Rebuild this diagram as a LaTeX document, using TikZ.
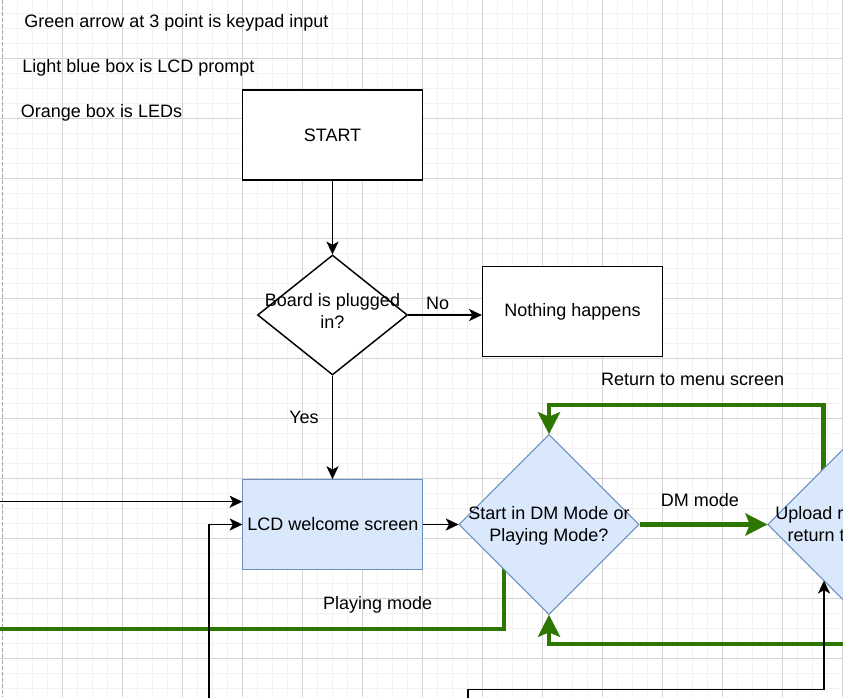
\documentclass[tikz,border=0pt]{standalone}
\usepackage{fontspec}
\setmainfont{Liberation Sans}
\usetikzlibrary{shapes.geometric,arrows.meta}
\pgfdeclarelayer{background}
\pgfsetlayers{background,main}
\definecolor{dgreen}{HTML}{2D7600}
\definecolor{lblue}{HTML}{DAE8FC}
\definecolor{bblue}{HTML}{6C8EBF}
\definecolor{gminor}{RGB}{242,242,242}
\definecolor{gmajor}{RGB}{212,212,212}
\newcommand\dfont{\fontsize{13.5pt}{16.2pt}\selectfont}
\tikzset{
 txt/.style={inner sep=0pt, font=\dfont},
 plainbox/.style={draw=black, fill=white, line width=1.1pt, minimum width=135pt, minimum height=67.5pt, inner sep=0pt, font=\dfont},
 lcdbox/.style={draw=bblue, fill=lblue, line width=0.8pt, minimum width=135pt, minimum height=67.5pt, inner sep=0pt, font=\dfont},
 decision/.style={diamond, draw=black, fill=white, line width=1.1pt, inner sep=0pt},
 lcddecision/.style={diamond, draw=bblue, fill=lblue, line width=0.8pt, inner sep=0pt, minimum width=135pt, minimum height=135pt},
 blk/.style={draw=black, line width=1.1pt, -{Stealth[length=9.5pt,width=9pt,inset=2.5pt,line width=0.1pt]}},
 grn/.style={draw=dgreen, line width=3.2pt},
 grnarrow/.style={grn, -{Stealth[length=16.5pt,width=17pt,inset=3.5pt,line width=0.1pt]}},
 gridminor/.style={draw=gminor, line width=0.75pt},
 gridmajor/.style={draw=gmajor, line width=0.75pt},
}
\begin{document}
\begin{tikzpicture}[x=0.75pt,y=-0.75pt]
\useasboundingbox (0,0) rectangle (843,697);
\clip (0,0) rectangle (843,697);
\begin{pgfonlayer}{background}
\fill[white] (0,0) rectangle (843,697);
\foreach \i in {0,...,56} { \draw[gridminor] ({2.3+15*\i},0) -- ({2.3+15*\i},697); }
\foreach \j in {0,...,45} { \draw[gridminor] (0,{13.3+15*\j}) -- (843,{13.3+15*\j}); }
\foreach \i in {1,...,14} { \draw[gridmajor] ({2.3+60*\i},0) -- ({2.3+60*\i},697); }
\foreach \j in {0,...,10} { \draw[gridmajor] (0,{58.3+60*\j}) -- (843,{58.3+60*\j}); }
\draw[gray!70, line width=0.75pt, dash pattern=on 3pt off 1.5pt] (2.3,0) -- (2.3,697);
\end{pgfonlayer}

% legend texts
\node[txt, anchor=base west] (t1) at (24,27.3) {Green arrow at 3 point is keypad input};
\node[txt, anchor=base west] (t2) at (22,72.7) {Light blue box is LCD prompt};
\node[txt, anchor=base west] (t3) at (20.7,117.8) {Orange box is LEDs};

% shapes
\node[plainbox] (start) at (332.5,135) {START};
\node[decision, minimum width=112.5pt, minimum height=90pt] (d1) at (332.5,315) {};
\node[txt, anchor=base] (d1a) at (332.5,306.7) {Board is plugged};
\node[txt, anchor=base] (d1b) at (332.5,328.3) {in?};
\node[plainbox] (nothing) at (572.5,311.7) {Nothing happens};
\node[lcdbox] (lcd) at (332.8,524.5) {LCD welcome screen};
\node[lcddecision] (d2) at (549,524.5) {};
\node[txt, anchor=base] (d2a) at (549,519.5) {Start in DM Mode or};
\node[txt, anchor=base] (d2b) at (549,541.7) {Playing Mode?};
\node[lcddecision] (d3) at (857.7,524.5) {};
\node[txt, anchor=base west] (d3a) at (775,519.5) {Upload r};
\node[txt, anchor=base west] (d3b) at (787.3,541.7) {return t};

% labels
\node[txt, anchor=base] (lno) at (437.7,309.3) {No};
\node[txt, anchor=base] (lyes) at (304,423.3) {Yes};
\node[txt, anchor=base] (ldm) at (700,506.7) {DM mode};
\node[txt, anchor=base] (lret) at (692.7,385) {Return to menu screen};
\node[txt, anchor=base] (lplay) at (377.7,609.3) {Playing mode};

% connectors
\draw[blk] (start.south) -- (d1.north);
\draw[blk] (d1.east) -- (d1.east -| nothing.west);
\draw[blk] (d1.south) -- (d1.south |- lcd.north);
\coordinate (inL) at (-5,501.7);
\draw[blk] (inL) -- (inL -| lcd.west);
\coordinate (inB) at (209,705);
\draw[blk] (inB) |- (lcd.west);
\draw[blk] (lcd.east) -- (d2.west);
\draw[grnarrow] (d2.east) -- (d3.west);
\begin{pgfonlayer}{background}
\coordinate (r1) at (823.5,478);
\coordinate (rt) at (823.5,405);
\draw[grnarrow] (r1) -- (rt) -- (d2.north |- rt) -- (d2.north);
\coordinate (p1) at (504,562);
\coordinate (pL) at (-5,629.3);
\draw[grn] (p1) |- (pL);
\end{pgfonlayer}
\coordinate (bR) at (850,644.3);
\draw[grnarrow] (bR) -| (d2.south);
\coordinate (bb) at (468,705);
\coordinate (b2) at (824,689.3);
\coordinate (b3) at (824,580.8);
\draw[blk] (bb) |- (b2) -- (b3);
\end{tikzpicture}
\end{document}
